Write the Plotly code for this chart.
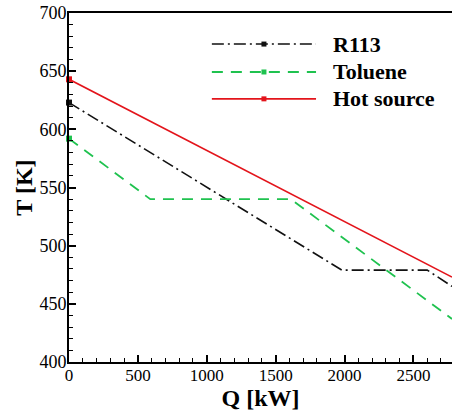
import plotly.graph_objects as go

# ---- data ----
series_names = ["R113", "Toluene", "Hot source"]
q_r113 = [0, 1980, 2600, 2780]
t_r113 = [623, 479, 479, 465]
q_toluene = [0, 590, 1610, 2780]
t_toluene = [592, 540, 540, 437]
q_hot = [0, 2780]
t_hot = [643, 473]

x_ticks = [0, 500, 1000, 1500, 2000, 2500]
y_ticks = [400, 450, 500, 550, 600, 650, 700]

colors = {"R113": "#111111", "Toluene": "#1fc24f", "Hot source": "#e3141b"}
dashes = {"R113": "12px,4px,2px,4px", "Toluene": "11px,8px", "Hot source": "solid"}
widths = {"R113": 1.6, "Toluene": 1.8, "Hot source": 1.6}
data = {"R113": (q_r113, t_r113), "Toluene": (q_toluene, t_toluene), "Hot source": (q_hot, t_hot)}

fig = go.Figure()
for name in series_names:
    q, t = data[name]
    fig.add_trace(go.Scatter(x=q, y=t, mode="lines", showlegend=False,
                             line=dict(color=colors[name], width=widths[name], dash=dashes[name])))
    fig.add_trace(go.Scatter(x=q[:1], y=t[:1], mode="markers", showlegend=False, cliponaxis=False,
                             marker=dict(symbol="square", size=6, color=colors[name])))

# ---- custom legend (long line samples as in the reference) ----
leg_y = [0.911, 0.831, 0.754]
shapes = []
annotations = []
for name, yy in zip(series_names, leg_y):
    shapes.append(dict(type="line", xref="paper", yref="paper", x0=0.373, x1=0.645, y0=yy, y1=yy,
                       line=dict(color=colors[name], width=widths[name], dash=dashes[name])))
    shapes.append(dict(type="rect", xref="paper", yref="paper", xsizemode="pixel", ysizemode="pixel",
                       xanchor=0.509, yanchor=yy, x0=-2.5, x1=2.5, y0=-2.5, y1=2.5,
                       fillcolor=colors[name], line=dict(width=0)))
    annotations.append(dict(xref="paper", yref="paper", x=0.684, y=yy, text=name, showarrow=False,
                            xanchor="left", yanchor="middle",
                            font=dict(family="Liberation Serif", size=22, color="black", weight="bold")))

fig.update_layout(
    width=452, height=411,
    margin=dict(l=69, r=0, t=13, b=49),
    plot_bgcolor="white", paper_bgcolor="white",
    shapes=shapes, annotations=annotations,
    showlegend=False,
)
fig.update_xaxes(range=[0, 2780], tickvals=x_ticks, ticks="inside", ticklen=7, tickwidth=1.5,
                 tickcolor="black", showline=True, linecolor="black", linewidth=2, mirror=True,
                 showgrid=False, zeroline=False, automargin=False, ticklabelstandoff=-3,
                 minor=dict(dtick=100, ticks="inside", ticklen=4, tickcolor="black", tickwidth=1),
                 tickfont=dict(family="Liberation Serif", size=17, color="black"),
                 title=dict(text="Q [kW]", standoff=5,
                            font=dict(family="Liberation Serif", size=24, color="black", weight="bold")))
fig.update_yaxes(range=[400, 700], tickvals=y_ticks, ticks="inside", ticklen=7, tickwidth=1.5,
                 tickcolor="black", showline=True, linecolor="black", linewidth=2, mirror=True,
                 showgrid=False, zeroline=False, automargin=False, ticklabelstandoff=-3,
                 minor=dict(dtick=10, ticks="inside", ticklen=4, tickcolor="black", tickwidth=1),
                 tickfont=dict(family="Liberation Serif", size=18, color="black"),
                 title=dict(text="T [K]", standoff=0,
                            font=dict(family="Liberation Serif", size=24, color="black", weight="bold")))

# remove the default page margin so the 452x411 figure fills the window exactly
fig.write_html("out.html", config={"displayModeBar": False},
               post_script="document.body.style.margin='0';document.body.style.padding='0';")
